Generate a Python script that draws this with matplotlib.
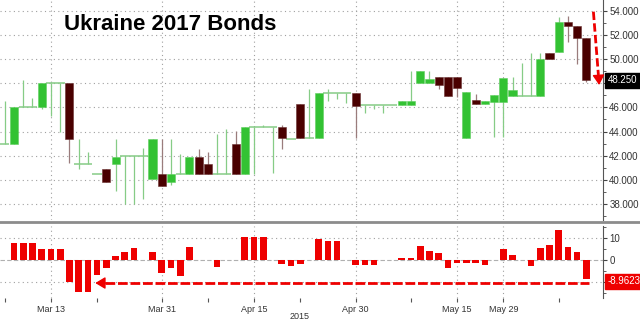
import numpy as np
import matplotlib
matplotlib.use('Agg')
import matplotlib.pyplot as plt
import matplotlib.transforms as mtransforms
from matplotlib.lines import Line2D

plt.rcParams['font.family'] = ['Liberation Sans', 'DejaVu Sans']

# daily OHLC for the bond price
open_px = [43.0, 43.0, 46.0, 46.0, 46.0, 48.0, 48.0, 48.0, 41.3, 41.3,
           40.5, 40.9, 41.3, 41.95, 41.95, 41.95, 40.05, 40.45, 39.8, 40.45,
           40.45, 41.85, 41.3, 40.45, 40.45, 43.0, 40.45, 44.4, 44.4, 44.4,
           44.4, 43.35, 46.3, 43.5, 43.5, 47.17, 47.17, 47.17, 47.17, 46.2,
           46.2, 46.2, 46.2, 46.2, 46.2, 48.0, 48.0, 48.55, 48.55, 48.55,
           43.5, 46.65, 46.25, 46.45, 46.45, 46.95, 46.95, 46.95, 46.95, 50.55,
           50.6, 53.05, 52.75, 51.75]
high_px = [46.5, 46.0, 48.3, 46.8, 48.0, 48.0, 48.0, 48.0, 43.4, 42.3,
           40.5, 40.9, 43.4, 41.95, 41.95, 42.6, 43.4, 43.4, 43.4, 42.1,
           41.85, 42.55, 42.3, 43.8, 44.25, 44.05, 44.4, 44.4, 44.5, 44.4,
           44.5, 43.35, 46.3, 47.5, 47.2, 47.5, 47.17, 47.17, 47.17, 46.2,
           46.2, 46.2, 46.2, 46.55, 49.05, 49.05, 49.05, 48.55, 48.55, 48.55,
           47.3, 47.15, 46.55, 47.0, 48.4, 48.55, 49.65, 50.55, 50.55, 50.55,
           53.5, 53.6, 52.75, 51.75]
low_px = [43.0, 43.0, 46.0, 46.0, 45.9, 45.3, 44.0, 41.4, 40.9, 41.3,
          40.5, 39.8, 39.1, 38.0, 38.0, 38.4, 40.05, 39.5, 39.6, 40.45,
          40.45, 40.45, 40.45, 40.45, 40.45, 40.45, 40.45, 40.45, 44.4, 40.6,
          42.55, 43.35, 43.5, 43.5, 43.5, 46.5, 46.7, 46.35, 43.5, 45.5,
          45.9, 45.5, 46.2, 46.2, 46.2, 48.0, 48.0, 47.5, 46.95, 46.9,
          43.5, 46.25, 46.25, 43.55, 43.55, 46.95, 46.95, 46.95, 46.95, 50.0,
          50.6, 51.45, 49.6, 48.1]
close_px = [43.0, 46.0, 46.0, 46.0, 48.0, 48.0, 48.0, 43.4, 41.3, 41.3,
            40.5, 39.8, 41.9, 41.95, 41.95, 41.95, 43.4, 39.5, 40.45, 40.45,
            41.85, 40.45, 40.45, 40.45, 40.45, 40.45, 44.4, 44.4, 44.4, 44.4,
            43.5, 43.35, 43.5, 43.5, 47.17, 47.17, 47.17, 47.17, 46.15, 46.2,
            46.2, 46.2, 46.2, 46.55, 46.55, 49.05, 48.35, 47.9, 46.95, 47.65,
            47.3, 46.25, 46.55, 47.0, 48.4, 47.45, 46.95, 46.95, 50.0, 50.0,
            53.05, 52.75, 51.75, 48.25]

# lower panel oscillator
osc = [0, 7.45, 7.45, 7.45, 4.7, 4.7, 4.7, -10.3, -14.5, -14.5,
       -7.0, -3.9, 1.7, 3.6, 5.5, 0, 3.6, -5.9, -3.9, -7.3,
       5.8, 0, 0, -3.4, 0, 0, 10.2, 10.2, 10.2, 0,
       -1.9, -2.7, -1.9, 0, 9.4, 8.6, 8.6, 0, -2.3, -2.3,
       -2.3, 0, 0, 0.9, 0.9, 6.4, 3.95, 2.9, -3.9, -1.35,
       -1.35, -1.65, -2.4, -0.3, 4.85, 2.1, 0, -2.9, 5.5, 6.7,
       13.4, 5.9, 3.6, -8.9623]

date_labels = ['Mar 13', 'Mar 31', 'Apr 15', 'Apr 30', 'May 15', 'May 29']
date_idx = [5, 17, 27, 38, 49, 54]
minor_idx = [0, 10, 22, 32, 44, 60]

GREEN = '#33c233'
MAROON = '#4a0000'
WICK_UP = '#86cc86'
WICK_DN = '#9a7c7c'
RED = '#ee0000'
GRID = dict(color='#a0a0a0', ls=(0, (1, 3)), lw=0.8)

o = np.array(open_px)
h = np.array(high_px)
l = np.array(low_px)
c = np.array(close_px)
x = np.arange(len(c))
up = c > o
dn = c < o
flat = c == o

fig = plt.figure(figsize=(6.4, 3.21), dpi=100)
ax = fig.add_axes([0, 1 - 220 / 321, 603 / 640, 220 / 321])
ax2 = fig.add_axes([0, 1 - 298 / 321, 603 / 640, 72 / 321])

# candles
ax.vlines(x[up | flat], l[up | flat], h[up | flat], color=WICK_UP, lw=0.9, zorder=2)
ax.vlines(x[dn], l[dn], h[dn], color=WICK_DN, lw=0.9, zorder=2)
ax.hlines(c[flat], x[flat] - 0.5, x[flat] + 0.5, color=WICK_UP, lw=1.1, zorder=2)
ax.bar(x[up], (c - o)[up], bottom=o[up], width=0.88, color=GREEN,
       edgecolor='#5fcf5f', lw=0.4, zorder=3)
ax.bar(x[dn], (o - c)[dn], bottom=c[dn], width=0.88, color=MAROON,
       edgecolor='#6a3030', lw=0.4, zorder=3)

ax.set_xlim(-0.52, 64.8)
ax.set_ylim(36.66, 54.91)
ax.set_xticks(date_idx)
ax.tick_params(axis='x', length=0, labelbottom=False)
ax.yaxis.tick_right()
yt = np.arange(38, 55, 2)
ax.set_yticks(yt)
# the 48 label sits under the last-price box
ax.set_yticklabels(['' if v == 48 else f'{v:.3f}' for v in yt])
ax.set_yticks(np.arange(37, 55, 1), minor=True)
ax.tick_params(axis='y', which='major', length=3, width=0.8, color='#444',
               labelsize=7, labelcolor='#333', pad=1.5)
ax.tick_params(axis='y', which='minor', length=2, width=0.6, color='#444')
ax.grid(True, **GRID)
ax.set_axisbelow(True)
for s in ['top', 'left', 'bottom']:
    ax.spines[s].set_visible(False)
ax.spines['right'].set_color('#555')
ax.spines['right'].set_linewidth(0.8)

trans = mtransforms.blended_transform_factory(ax.transAxes, ax.transData)
ax.text(1.008, c[-1], f'{c[-1]:.3f}', transform=trans, ha='left', va='center',
        color='white', fontsize=7, clip_on=False, zorder=10,
        bbox=dict(boxstyle='square,pad=0.25', fc='black', ec='black'))

# dashed arrow on the price panel
ax.plot([63.76, 64.3], [53.94, 48.7], color=RED, lw=2, ls=(0, (3, 1.2)),
        clip_on=False, zorder=6)
ax.annotate('', xy=(64.38, 47.86), xytext=(64.3, 48.8),
            arrowprops=dict(arrowstyle='-|>,head_length=0.5,head_width=0.3',
                            color=RED, lw=1, shrinkA=0, shrinkB=0,
                            mutation_scale=12), annotation_clip=False, zorder=6)

fig.text(64 / 640, 1 - 25 / 321, 'Ukraine 2017 Bonds', fontsize=16,
         fontweight='bold', va='center', ha='left')

# lower panel
ax2.bar(x, osc, width=0.72, color=RED, zorder=3)
ax2.axhline(0, color='#b0b0b0', ls=(0, (4, 2)), lw=0.8, zorder=1)
ax2.set_xlim(-0.52, 64.8)
ax2.set_ylim(-17.4, 15.3)
ax2.set_xticks(date_idx)
ax2.set_xticklabels(date_labels)
ax2.set_xticks(minor_idx, minor=True)
ax2.tick_params(axis='x', which='both', length=3, width=0.8, color='#555',
                labelsize=6.5, labelcolor='#333', pad=2)
ax2.yaxis.tick_right()
ax2.set_yticks([-10, 0, 10])
ax2.set_yticklabels(['', '0', '10'])
ax2.set_yticks([-15, -5, 5, 15], minor=True)
ax2.tick_params(axis='y', which='major', length=3, width=0.8, color='#444',
                labelsize=7, labelcolor='#333', pad=1.5)
ax2.tick_params(axis='y', which='minor', length=2, width=0.6, color='#444')
ax2.grid(True, **GRID)
for gl, v in zip(ax2.get_ygridlines(), [-10, 0, 10]):
    if v == 0:
        gl.set_visible(False)
for s in ['top', 'left', 'bottom']:
    ax2.spines[s].set_visible(False)
ax2.spines['right'].set_color('#555')
ax2.spines['right'].set_linewidth(0.8)

trans2 = mtransforms.blended_transform_factory(ax2.transAxes, ax2.transData)
ax2.text(1.008, osc[-1] - 0.9, f'{osc[-1]:.4f}', transform=trans2, ha='left',
         va='center', color='white', fontsize=7, clip_on=False, zorder=10,
         bbox=dict(boxstyle='square,pad=0.25', fc=RED, ec=RED))

ax2.plot([10.8, 63.3], [-10.6, -10.6], color=RED, lw=2, ls=(0, (3.5, 1)),
         zorder=6)
ax2.annotate('', xy=(9.8, -10.6), xytext=(11.0, -10.6),
             arrowprops=dict(arrowstyle='-|>,head_length=0.5,head_width=0.3',
                             color=RED, lw=1, shrinkA=0, shrinkB=0,
                             mutation_scale=12), zorder=6)

fig.text(300 / 640, 1 - 316.5 / 321, '2015', fontsize=6.5, color='#333',
         ha='center', va='center')

# separator between the two panels
fig.add_artist(Line2D([0, 1], [1 - 222 / 321] * 2, color='#8c8c8c', lw=2))

fig.savefig('out.png', dpi=100)
